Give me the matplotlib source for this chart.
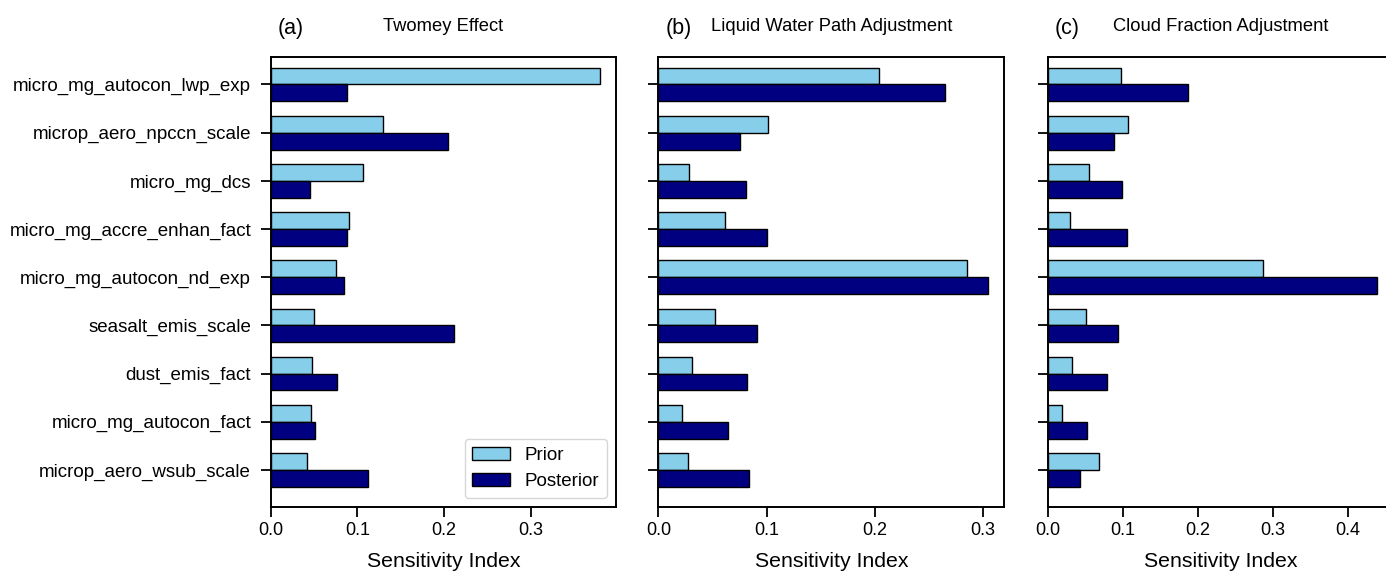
import numpy as np
import matplotlib.pyplot as plt

plt.rcParams['font.family'] = ['Liberation Sans', 'DejaVu Sans']

params = ["micro_mg_autocon_lwp_exp", "microp_aero_npccn_scale", "micro_mg_dcs",
          "micro_mg_accre_enhan_fact", "micro_mg_autocon_nd_exp", "seasalt_emis_scale",
          "dust_emis_fact", "micro_mg_autocon_fact", "microp_aero_wsub_scale"]

twomey_prior = [0.379, 0.129, 0.107, 0.090, 0.075, 0.050, 0.048, 0.047, 0.042]
twomey_post = [0.088, 0.204, 0.046, 0.088, 0.085, 0.211, 0.076, 0.051, 0.112]

lwp_prior = [0.204, 0.101, 0.028, 0.061, 0.285, 0.052, 0.031, 0.022, 0.027]
lwp_post = [0.265, 0.075, 0.081, 0.100, 0.304, 0.091, 0.082, 0.064, 0.084]

cf_prior = [0.098, 0.107, 0.055, 0.030, 0.287, 0.051, 0.032, 0.019, 0.069]
cf_post = [0.187, 0.089, 0.099, 0.106, 0.438, 0.094, 0.079, 0.053, 0.043]

titles = ["Twomey Effect", "Liquid Water Path Adjustment", "Cloud Fraction Adjustment"]
letters = ["(a)", "(b)", "(c)"]
priors = [twomey_prior, lwp_prior, cf_prior]
posts = [twomey_post, lwp_post, cf_post]

fig = plt.figure(figsize=(13.86, 5.74), dpi=100)
lefts = [0.1952, 0.4751, 0.7558]
y = np.arange(len(params))
h = 0.35

axes = []
for i in range(3):
    ax = fig.add_axes([lefts[i], 0.1167, 0.2493, 0.784])
    ax.barh(y - h / 2, priors[i], height=h, color="skyblue", edgecolor="black",
            linewidth=1, label="Prior")
    ax.barh(y + h / 2, posts[i], height=h, color="navy", edgecolor="black",
            linewidth=1, label="Posterior")
    ax.set_ylim(8.77, -0.57)
    ax.set_yticks(y)
    if i == 0:
        ax.set_yticklabels(params)
    else:
        ax.set_yticklabels([])
    ax.set_xlabel("Sensitivity Index", fontsize=15.3, labelpad=10)
    ax.tick_params(axis="both", length=7, width=1.3)
    ax.tick_params(axis="x", labelsize=13)
    ax.tick_params(axis="y", pad=7, labelsize=13.5)
    for s in ax.spines.values():
        s.set_linewidth(1.4)
    ax.text(0.5, 1.057, titles[i], transform=ax.transAxes, ha="center",
            va="baseline", fontsize=13.2)
    ax.text(0.02, 1.052, letters[i], transform=ax.transAxes, ha="left",
            va="baseline", fontsize=15.5)
    axes.append(ax)

axes[0].set_xticks([0.0, 0.1, 0.2, 0.3])
axes[1].set_xticks([0.0, 0.1, 0.2, 0.3])
axes[2].set_xticks([0.0, 0.1, 0.2, 0.3, 0.4])

axes[0].legend(loc="lower right", fontsize=13.5)

plt.savefig("out.png", dpi=100)
